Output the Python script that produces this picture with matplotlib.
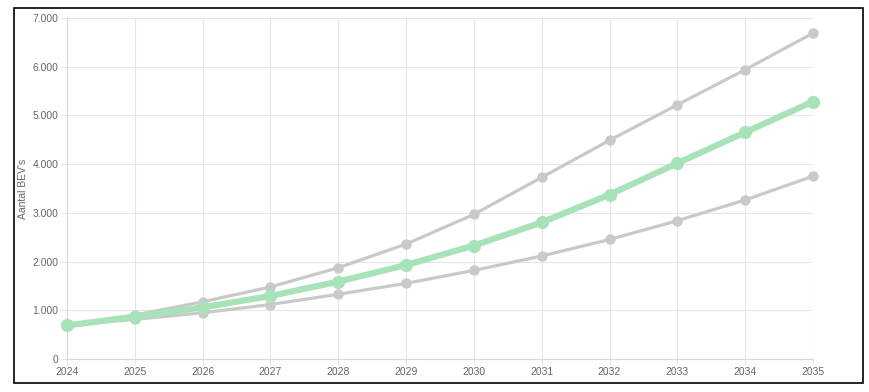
"""Projected number of BEVs per year, three scenarios."""
import matplotlib

matplotlib.use("Agg")
import matplotlib.pyplot as plt
from matplotlib.patches import Rectangle
from matplotlib.ticker import FuncFormatter

years = list(range(2024, 2036))
high = [690, 905, 1175, 1480, 1875, 2360, 2970, 3730, 4490, 5220, 5940, 6690]
mid = [690, 870, 1060, 1295, 1590, 1930, 2330, 2805, 3375, 4020, 4655, 5285]
low = [690, 815, 950, 1120, 1330, 1555, 1820, 2115, 2455, 2840, 3265, 3755]

grey = "#c9c9c9"
green = "#a8e2b9"
grid = "#e6e6e6"
text = "#666666"

plt.rcParams["font.family"] = ["Liberation Sans", "DejaVu Sans"]


def nl_thousands(v, pos):
    return f"{int(v):,}".replace(",", ".")


def main():
    fig = plt.figure(figsize=(8.7, 3.92), dpi=100)
    ax = fig.add_axes([0.077, 0.084, 0.8575, 0.870])

    ax.plot(years, high, color=grey, lw=2.3, marker="o", ms=6.5, zorder=3)
    ax.plot(years, low, color=grey, lw=2.3, marker="o", ms=6.5, zorder=3)
    ax.plot(years, mid, color=green, lw=4.5, marker="o", ms=8.5, zorder=4)

    ax.set_xlim(2024, 2035)
    ax.set_ylim(0, 7000)
    ax.set_xticks(years)
    ax.set_yticks(range(0, 7001, 1000))
    ax.yaxis.set_major_formatter(FuncFormatter(nl_thousands))
    ax.grid(True, color=grid, lw=0.8)
    ax.set_axisbelow(True)
    for s in ax.spines.values():
        s.set_visible(False)
    ax.spines["left"].set_visible(True)
    ax.spines["bottom"].set_visible(True)
    ax.spines["left"].set_color("#d9d9d9")
    ax.spines["bottom"].set_color("#d9d9d9")
    ax.tick_params(colors=text, labelsize=7.5, length=4, width=0.8, color=grid, pad=2)
    ax.set_ylabel("Aantal BEV's", color=text, fontsize=7.5)
    ax.yaxis.set_label_coords(-0.052, 0.5)
    for p in ax.get_lines():
        p.set_clip_on(False)

    # black frame around the whole picture
    fig.patches.append(
        Rectangle((0.016, 0.022), 0.976, 0.958, transform=fig.transFigure,
                  fill=False, edgecolor="black", lw=1.2)
    )

    fig.savefig("out.png", dpi=100)


if __name__ == "__main__":
    main()
